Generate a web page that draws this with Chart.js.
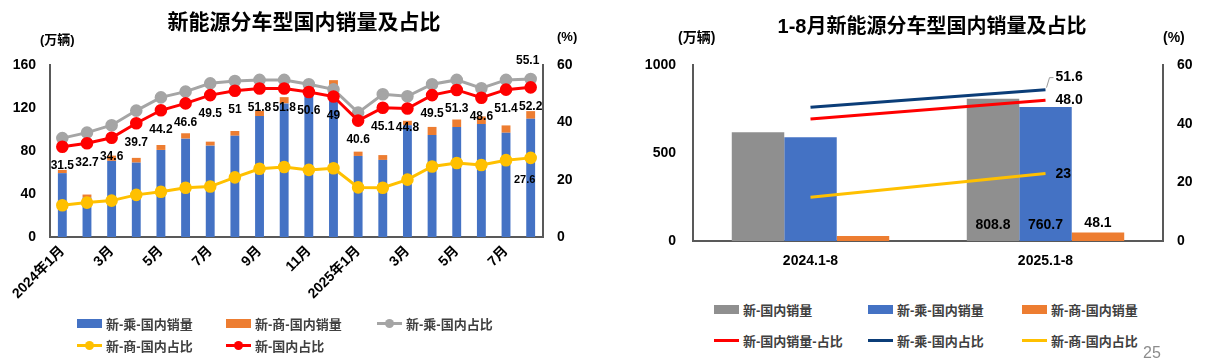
<!DOCTYPE html>
<html>
<head>
<meta charset="utf-8">
<script src="https://cdn.jsdelivr.net/npm/chart.js@4.4.1/dist/chart.umd.min.js"></script>
<style>
  body { margin: 0; background: #fff; font-family: "Liberation Sans", "Noto Sans CJK SC", sans-serif; }
  #wrap { position: relative; width: 1231px; height: 361px; overflow: hidden; background: #fff; }
  canvas { position: absolute; top: 0; }
  .txt { position: absolute; font-weight: bold; color: #000; white-space: nowrap; }
  .legend { position: absolute; display: grid; }
  .item { display: flex; align-items: center; font-size: 13px; font-weight: bold; color: #404040; white-space: nowrap; }
  .mk { position: relative; width: 25px; height: 9px; margin-right: 4px; flex: none; }
  .mk.line::before { content: ""; position: absolute; left: 0; right: 0; top: 3px; height: 3px; background: var(--c); }
  .mk.box { background: var(--c); }
  .mk.dot::after { content: ""; position: absolute; left: 8px; top: 0; width: 9px; height: 9px; border-radius: 50%; background: var(--c); }
</style>
</head>
<body>
<div id="wrap">
  <canvas id="chart-mes" width="600" height="315" style="left:0"></canvas>
  <canvas id="chart-acum" width="631" height="290" style="left:600px"></canvas>

  <div class="txt" style="left:0;width:608px;top:5px;text-align:center;font-size:21px;">新能源分车型国内销量及占比</div>
  <div class="txt" style="left:40px;top:29px;font-size:13px;">(万辆)</div>
  <div class="txt" style="left:557px;top:29px;font-size:13px;">(%)</div>

  <div class="txt" style="left:632px;width:600px;top:10px;text-align:center;font-size:20px;">1-8月新能源分车型国内销量及占比</div>
  <div class="txt" style="left:678px;top:26px;font-size:14px;">(万辆)</div>
  <div class="txt" style="left:1163px;top:29px;font-size:14px;">(%)</div>

  <div id="legenda-mes" class="legend" style="left:77px;top:312px;grid-template-columns:149px 151px 160px;grid-auto-rows:22px;"></div>
  <div id="legenda-acum" class="legend" style="left:714px;top:294px;grid-template-columns:154px 154px 160px;grid-auto-rows:31px;"></div>

  <div class="txt" style="left:1143px;top:344px;font-size:16px;font-weight:normal;color:#8c8c8c;">25</div>
</div>

<script>
// Mensal 2024.1 - 2025.8
const meses = ['2024年1月', '2月', '3月', '4月', '5月', '6月', '7月', '8月', '9月', '10月', '11月', '12月',
               '2025年1月', '2月', '3月', '4月', '5月', '6月', '7月', '8月'];
const vendasPassageiro = [59.4, 36.7, 70.8, 69.2, 81.0, 91.5, 85.0, 94.2, 112.5, 124.3, 134.5, 139.7,
                          75.4, 71.7, 103.9, 94.9, 102.3, 105.1, 97.0, 110.0];
const vendasComercial = [3.0, 2.8, 4.9, 4.4, 4.6, 5.0, 3.7, 4.4, 4.7, 5.8, 4.3, 6.2,
                         4.0, 4.5, 4.2, 7.5, 7.0, 7.0, 6.8, 7.1];
const partPassageiro = [34.5, 36.4, 39.0, 44.1, 48.7, 50.7, 53.6, 54.4, 54.8, 54.8, 53.3, 51.5,
                        43.4, 49.8, 49.1, 53.3, 54.8, 51.9, 54.8, 55.1];
const partComercial = [11.1, 12.0, 12.7, 14.7, 15.8, 17.2, 17.6, 20.8, 23.8, 24.4, 23.4, 24.0,
                       17.3, 17.2, 20.0, 24.6, 25.8, 25.1, 26.8, 27.6];
const partTotal = [31.5, 32.7, 34.6, 39.7, 44.2, 46.6, 49.5, 51, 51.8, 51.8, 50.6, 49,
                   40.6, 45.1, 44.8, 49.5, 51.3, 48.6, 51.4, 52.2];

// Acumulado 1-8
const periodos = ['2024.1-8', '2025.1-8'];
const acumTotal = [618, 808.8];
const acumPassageiro = [590, 760.7];
const acumComercial = [28, 48.1];
const acumPartTotal = [41.6, 48.0];
const acumPartPassageiro = [45.6, 51.6];
const acumPartComercial = [14.9, 23];

const CORES = {
    azul: '#4472C4', laranja: '#ED7D31', cinza: '#A5A5A5', amarelo: '#FFC000',
    vermelho: '#FF0000', marinho: '#0B3D78', cinzaBarra: '#8F8F8F', eixo: '#595959'
};
const FONTE = '"Liberation Sans", "Noto Sans CJK SC", sans-serif';

Chart.defaults.font.family = FONTE;
Chart.defaults.color = '#000';

function larguraFixa(px) {
    return (scale) => { scale.width = px; };
}
function alturaFixa(px) {
    return (scale) => { scale.height = px; scale.paddingLeft = 0; scale.paddingRight = 0; };
}

function eixoY(pos, min, max, step, largura, pad, tam) {
    return {
        position: pos, min: min, max: max,
        grid: { display: false, drawTicks: false },
        border: { display: true, color: CORES.eixo, width: 2 },
        ticks: { stepSize: step, padding: pad, font: { size: tam, weight: 'bold' },
                 callback: (v) => String(v) },
        afterFit: larguraFixa(largura)
    };
}

function linha(label, dados, cor, raio) {
    return {
        type: 'line', label: label, data: dados, yAxisID: 'y1',
        borderColor: cor, backgroundColor: cor, borderWidth: 3,
        pointRadius: raio, pointBackgroundColor: cor, pointBorderColor: cor,
        tension: 0, order: 0
    };
}

// Rotulos do grafico mensal
const rotulosMes = {
    id: 'rotulosMes',
    afterDatasetsDraw(chart) {
        const ctx = chart.ctx;
        const ult = meses.length - 1;
        ctx.save();
        ctx.fillStyle = '#000';
        ctx.textAlign = 'center';
        ctx.textBaseline = 'middle';
        ctx.font = 'bold 12px ' + FONTE;
        chart.getDatasetMeta(0).data.forEach((pt, i) => {
            ctx.fillText(String(partTotal[i]), pt.x, pt.y + 19);
        });
        const g = chart.getDatasetMeta(1).data[ult];
        ctx.fillText(String(partPassageiro[ult]), g.x - 3, g.y - 18);
        ctx.font = 'bold 11px ' + FONTE;
        const a = chart.getDatasetMeta(2).data[ult];
        ctx.fillText(String(partComercial[ult]), a.x - 6, a.y + 22);
        ctx.restore();
    }
};

// Rotulos do grafico acumulado (so 2025)
const rotulosAcum = {
    id: 'rotulosAcum',
    afterDatasetsDraw(chart) {
        const ctx = chart.ctx;
        const base = chart.scales.y.getPixelForValue(0);
        ctx.save();
        ctx.fillStyle = '#000';
        ctx.font = 'bold 14px ' + FONTE;
        ctx.textBaseline = 'middle';
        ctx.textAlign = 'center';
        const b0 = chart.getDatasetMeta(0).data[1];
        const b1 = chart.getDatasetMeta(1).data[1];
        const b2 = chart.getDatasetMeta(2).data[1];
        ctx.fillText(String(acumTotal[1]), b0.x, base - 16);
        ctx.fillText(String(acumPassageiro[1]), b1.x, base - 16);
        ctx.fillText(String(acumComercial[1]), b2.x, b2.y - 9);

        ctx.textAlign = 'left';
        const pv = chart.getDatasetMeta(3).data[1];
        const pm = chart.getDatasetMeta(4).data[1];
        const pa = chart.getDatasetMeta(5).data[1];
        ctx.fillText(acumPartTotal[1].toFixed(1), pv.x + 10, pv.y);
        ctx.fillText(String(acumPartPassageiro[1]), pm.x + 10, pm.y - 12);
        ctx.fillText(String(acumPartComercial[1]), pa.x + 10, pa.y + 1);

        // linha guia do 51.6
        ctx.strokeStyle = '#999';
        ctx.lineWidth = 1;
        ctx.beginPath();
        ctx.moveTo(pm.x + 1, pm.y - 2);
        ctx.lineTo(pm.x + 4, pm.y - 12);
        ctx.lineTo(pm.x + 8, pm.y - 12);
        ctx.stroke();
        ctx.restore();
    }
};

new Chart(document.getElementById('chart-mes'), {
    data: {
        labels: meses,
        datasets: [
            linha('新-国内占比', partTotal, CORES.vermelho, 4.8),
            linha('新-乘-国内占比', partPassageiro, CORES.cinza, 4.8),
            linha('新-商-国内占比', partComercial, CORES.amarelo, 4.8),
            { type: 'bar', label: '新-乘-国内销量', data: vendasPassageiro, backgroundColor: CORES.azul,
              yAxisID: 'y', stack: 'v', order: 1, categoryPercentage: 0.36, barPercentage: 1 },
            { type: 'bar', label: '新-商-国内销量', data: vendasComercial, backgroundColor: CORES.laranja,
              yAxisID: 'y', stack: 'v', order: 1, categoryPercentage: 0.36, barPercentage: 1 }
        ]
    },
    options: {
        responsive: false,
        animation: false,
        layout: { padding: { top: 65, left: 0, right: 0, bottom: 0 } },
        plugins: { legend: { display: false }, tooltip: { enabled: false } },
        scales: {
            x: {
                stacked: true,
                grid: { display: false, drawTicks: false },
                border: { display: true, color: CORES.eixo, width: 2 },
                ticks: {
                    autoSkip: false, minRotation: 45, maxRotation: 45, padding: 6,
                    font: { size: 14, weight: 'bold' },
                    callback: function (v, i) { return i % 2 === 0 ? this.getLabelForValue(v) : ''; }
                },
                afterFit: alturaFixa(78)
            },
            y: Object.assign(eixoY('left', 0, 160, 40, 50, 14, 14), { stacked: true }),
            y1: eixoY('right', 0, 60, 20, 57, 14, 14)
        }
    },
    plugins: [rotulosMes]
});

new Chart(document.getElementById('chart-acum'), {
    data: {
        labels: periodos,
        datasets: [
            { type: 'bar', label: '新-国内销量', data: acumTotal, backgroundColor: CORES.cinzaBarra, order: 1,
              categoryPercentage: 0.67, barPercentage: 1 },
            { type: 'bar', label: '新-乘-国内销量', data: acumPassageiro, backgroundColor: CORES.azul, order: 1,
              categoryPercentage: 0.67, barPercentage: 1 },
            { type: 'bar', label: '新-商-国内销量', data: acumComercial, backgroundColor: CORES.laranja, order: 1,
              categoryPercentage: 0.67, barPercentage: 1 },
            linha('新-国内销量-占比', acumPartTotal, CORES.vermelho, 0),
            linha('新-乘-国内占比', acumPartPassageiro, CORES.marinho, 0),
            linha('新-商-国内占比', acumPartComercial, CORES.amarelo, 0)
        ]
    },
    options: {
        responsive: false,
        animation: false,
        layout: { padding: { top: 65, left: 0, right: 0, bottom: 0 } },
        plugins: { legend: { display: false }, tooltip: { enabled: false } },
        scales: {
            x: {
                grid: { display: false, drawTicks: false },
                border: { display: true, color: CORES.eixo, width: 2 },
                ticks: { padding: 12, font: { size: 14, weight: 'bold' } },
                afterFit: alturaFixa(49)
            },
            y: eixoY('left', 0, 1000, 500, 93, 17, 14),
            y1: eixoY('right', 0, 60, 20, 68, 14, 14)
        }
    },
    plugins: [rotulosAcum]
});

// Legendas em HTML (grade de 3 colunas como no original)
function montarLegenda(id, itens) {
    const el = document.getElementById(id);
    itens.forEach(it => {
        const div = document.createElement('div');
        div.className = 'item';
        div.innerHTML = `<span class="mk ${it.tipo}" style="--c:${it.cor}"></span>${it.texto}`;
        el.appendChild(div);
    });
}

montarLegenda('legenda-mes', [
    { texto: '新-乘-国内销量', tipo: 'box', cor: CORES.azul },
    { texto: '新-商-国内销量', tipo: 'box', cor: CORES.laranja },
    { texto: '新-乘-国内占比', tipo: 'line dot', cor: CORES.cinza },
    { texto: '新-商-国内占比', tipo: 'line dot', cor: CORES.amarelo },
    { texto: '新-国内占比', tipo: 'line dot', cor: CORES.vermelho }
]);

montarLegenda('legenda-acum', [
    { texto: '新-国内销量', tipo: 'box', cor: CORES.cinzaBarra },
    { texto: '新-乘-国内销量', tipo: 'box', cor: CORES.azul },
    { texto: '新-商-国内销量', tipo: 'box', cor: CORES.laranja },
    { texto: '新-国内销量-占比', tipo: 'line', cor: CORES.vermelho },
    { texto: '新-乘-国内占比', tipo: 'line', cor: CORES.marinho },
    { texto: '新-商-国内占比', tipo: 'line', cor: CORES.amarelo }
]);
</script>
</body>
</html>
